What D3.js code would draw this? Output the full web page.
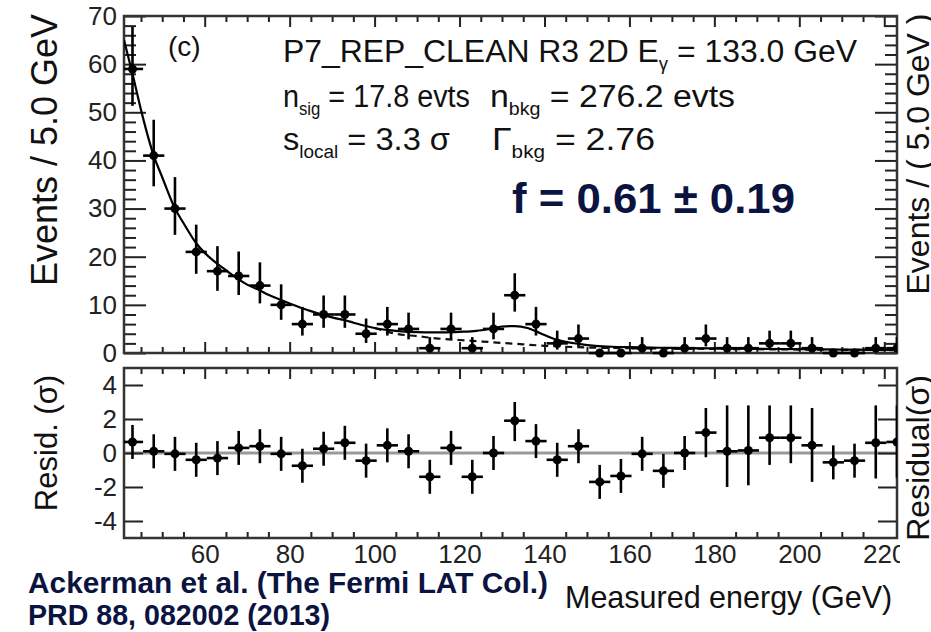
<!doctype html>
<html>
<head>
<meta charset="utf-8">
<style>
  body { margin: 0; background: #fff; }
  svg { display: block; font-family: "Liberation Sans", Arial, Helvetica, sans-serif; }
  .frame { fill: none; stroke: #333; stroke-width: 2.5; }
  .axis path { display: none; }
  .axis line { stroke: #222; stroke-width: 2; }
  .axis text { font-size: 26px; fill: #222; font-family: "Liberation Sans", Arial, sans-serif; }
  .pt line { stroke: #000; stroke-width: 2.6; }
  .pt circle { fill: #000; }
</style>
<script src="https://d3js.org/d3.v7.min.js"></script>
</head>
<body>
<svg width="931" height="632"></svg>
<script>
// bin centres in GeV (5 GeV bins)
var energy = [43, 48, 53, 58, 63, 68, 73, 78, 83, 88, 93, 98, 103, 108, 113, 118, 123, 128, 133,
              138, 143, 148, 153, 158, 163, 168, 173, 178, 183, 188, 193, 198, 203, 208, 213, 218, 223];
// events per bin with asymmetric poisson errors
var counts  = [59, 41, 30, 21, 17, 16, 14, 10, 6, 8, 8, 4, 6, 5, 1, 5, 1, 5, 12,
               6, 2, 3, 0, 0, 1, 0, 1, 3, 1, 1, 2, 2, 1, 0, 0, 1, 1];
var errLow  = [7.66, 6.38, 5.45, 4.55, 4.08, 3.96, 3.70, 3.11, 2.38, 2.77, 2.77, 1.91, 2.38, 2.16, 0.83, 2.16, 0.83, 2.16, 3.41,
               2.38, 1.29, 1.63, 0, 0, 0.83, 0, 0.83, 1.63, 0.83, 0.83, 1.29, 1.29, 0.83, 0, 0, 0.83, 0.83];
var errHigh = [8.73, 7.45, 6.54, 5.66, 5.20, 5.08, 4.83, 4.27, 3.58, 3.95, 3.95, 3.16, 3.58, 3.38, 2.30, 3.38, 2.30, 3.38, 4.56,
               3.58, 2.64, 2.92, 0, 0, 2.30, 0, 2.30, 2.92, 2.30, 2.30, 2.64, 2.64, 2.30, 0, 0, 2.30, 2.30];

// residuals in sigma
var resid     = [0.65, 0.1, -0.05, -0.4, -0.3, 0.3, 0.4, -0.05, -0.75, 0.25, 0.6, -0.45, 0.45, 0.1, -1.4, 0.3, -1.4, 0.0, 1.9,
                 0.7, -0.4, 0.4, -1.7, -1.35, -0.05, -1.05, 0.0, 1.2, 0.1, 0.15, 0.9, 0.9, 0.45, -0.55, -0.45, 0.6, 0.65];
var residLow  = [1, 1, 1, 1, 1, 1, 1, 1, 1, 1, 1, 1, 1, 1, 1, 1, 1, 1, 1.2,
                 1, 1, 1, 1, 1, 1, 1, 1, 1.45, 2.1, 2.05, 1.6, 1.5, 2.15, 1, 1, 2.1, 2.1];
var residHigh = [1, 1, 1, 1, 1, 1, 1, 1, 1, 1, 1, 1, 1, 1, 1, 1, 1, 1, 1.1,
                 1, 1, 1, 1, 1, 1, 1, 1, 1.45, 2.7, 2.65, 1.9, 1.9, 2.2, 1, 1, 2.2, 2.15];

// fitted model: signal + background (solid) and background only (dashed)
var fitE     = [41, 43, 45, 48, 50, 53, 55, 58, 60, 63, 65, 68, 70, 73, 75, 78, 80, 83, 85, 88, 90, 93, 95, 98, 100,
                103, 105, 108, 112, 116, 120, 124, 127, 130, 133, 136, 139, 142, 145, 148, 152, 156, 160, 170, 180, 190, 200, 210, 223];
var fitTotal = [65, 58, 50.5, 41, 36.5, 30, 27, 22.8, 20.8, 18.5, 17.2, 15.3, 14.2, 13, 12.1, 11, 10.3, 9.3, 8.7, 7.9, 7.4, 6.8, 6.3, 5.6, 5.2,
                4.8, 4.6, 4.4, 4.3, 4.3, 4.4, 4.6, 5.0, 5.5, 5.6, 5.2, 4.1, 3.0, 2.3, 1.9, 1.5, 1.3, 1.2, 1.05, 0.95, 0.87, 0.8, 0.72, 0.65];
var bkgE     = [100, 105, 110, 115, 120, 125, 130, 135, 140, 145, 150, 160, 170, 180, 190, 200, 210, 223];
var bkgOnly  = [5.2, 4.0, 3.5, 3.0, 2.7, 2.4, 2.1, 1.8, 1.5, 1.3, 1.15, 1.0, 0.92, 0.85, 0.78, 0.72, 0.66, 0.6];

var yTicksTop = [0, 10, 20, 30, 40, 50, 60, 70];
var yTicksRes = [-4, -2, 0, 2, 4];
var xTicks = [60, 80, 100, 120, 140, 160, 180, 200, 220];

var svg = d3.select("svg");
var left = 124, right = 897;
var x = d3.scaleLinear().domain([41, 223]).range([left, right]);
var yTop = d3.scaleLinear().domain([0, 70]).range([353, 16]);
var yRes = d3.scaleLinear().domain([-5, 5]).range([538, 368]);

var defs = svg.append("defs");
defs.append("clipPath").attr("id", "plotclip")
    .append("rect").attr("x", left).attr("y", 0).attr("width", right - left).attr("height", 632);
defs.append("clipPath").attr("id", "labelclip")
    .append("rect").attr("x", 0).attr("y", 0).attr("width", 900).attr("height", 632);

var minorTop = d3.range(0, 71, 2).filter(function(d) { return d % 10 != 0; });
var minorX = d3.range(45, 224, 5).filter(function(d) { return d % 20 != 0; });

// ---------- upper panel ----------
var upper = svg.append("g");

upper.append("g").attr("class", "axis").attr("transform", "translate(" + left + ",0)")
   .call(d3.axisLeft(yTop).tickValues(yTicksTop).tickSizeInner(-22).tickSizeOuter(0).tickPadding(7));
upper.append("g").attr("class", "axis").attr("transform", "translate(" + left + ",0)")
   .call(d3.axisLeft(yTop).tickValues(minorTop).tickSize(-12).tickFormat(""));
upper.append("g").attr("class", "axis").attr("transform", "translate(" + right + ",0)")
   .call(d3.axisRight(yTop).tickValues(yTicksTop).tickSize(-22).tickFormat(""));
upper.append("g").attr("class", "axis").attr("transform", "translate(" + right + ",0)")
   .call(d3.axisRight(yTop).tickValues(minorTop).tickSize(-12).tickFormat(""));
upper.append("g").attr("class", "axis").attr("transform", "translate(0," + yTop(70) + ")")
   .call(d3.axisTop(x).tickValues(xTicks).tickSize(-11).tickFormat(""));
upper.append("g").attr("class", "axis").attr("transform", "translate(0," + yTop(70) + ")")
   .call(d3.axisTop(x).tickValues(minorX).tickSize(-6).tickFormat(""));
upper.append("g").attr("class", "axis").attr("transform", "translate(0," + yTop(0) + ")")
   .call(d3.axisBottom(x).tickValues(xTicks).tickSize(-11).tickFormat(""));
upper.append("g").attr("class", "axis").attr("transform", "translate(0," + yTop(0) + ")")
   .call(d3.axisBottom(x).tickValues(minorX).tickSize(-6).tickFormat(""));

upper.append("rect").attr("class", "frame")
   .attr("x", left).attr("y", yTop(70)).attr("width", right - left).attr("height", yTop(0) - yTop(70));

var plotTop = upper.append("g").attr("clip-path", "url(#plotclip)");

plotTop.append("path")
   .datum(bkgE.map(function(e, i) { return [e, bkgOnly[i]]; }))
   .attr("fill", "none").attr("stroke", "#111").attr("stroke-width", 2.2).attr("stroke-dasharray", "7,5")
   .attr("d", d3.line().x(function(d) { return x(d[0]); }).y(function(d) { return yTop(d[1]); }).curve(d3.curveMonotoneX));

plotTop.append("path")
   .datum(fitE.map(function(e, i) { return [e, fitTotal[i]]; }))
   .attr("fill", "none").attr("stroke", "#000").attr("stroke-width", 2.2)
   .attr("d", d3.line().x(function(d) { return x(d[0]); }).y(function(d) { return yTop(d[1]); }).curve(d3.curveMonotoneX));

function drawPoints(g, ys, vals, lo, hi) {
  var pts = g.selectAll("g.pt")
    .data(energy.map(function(e, i) { return { e: e, v: vals[i], lo: lo[i], hi: hi[i] }; }))
    .enter().append("g").attr("class", "pt");
  pts.append("line")
     .attr("x1", function(d) { return x(d.e); }).attr("x2", function(d) { return x(d.e); })
     .attr("y1", function(d) { return ys(d.v - d.lo); }).attr("y2", function(d) { return ys(d.v + d.hi); });
  pts.append("line")
     .attr("x1", function(d) { return x(d.e - 2.5); }).attr("x2", function(d) { return x(d.e + 2.5); })
     .attr("y1", function(d) { return ys(d.v); }).attr("y2", function(d) { return ys(d.v); });
  pts.append("circle")
     .attr("cx", function(d) { return x(d.e); }).attr("cy", function(d) { return ys(d.v); }).attr("r", 4.5);
}

drawPoints(plotTop, yTop, counts, errLow, errHigh);

// fit summary text, each line squeezed to its own width
var info = upper.append("g").attr("fill", "#111").attr("font-size", 31);
info.append("text").attr("x", 168).attr("y", 56).attr("font-size", 28).text("(c)");

function subText(xp, yp, width, main, sub, rest) {
  var t = info.append("text").attr("x", xp).attr("y", yp)
    .attr("textLength", width).attr("lengthAdjust", "spacingAndGlyphs");
  t.append("tspan").text(main);
  t.append("tspan").attr("font-size", 18).attr("dy", 8).text(sub);
  t.append("tspan").attr("dy", -8).text(rest);
}
subText(283, 62, 574, "P7_REP_CLEAN R3 2D E", "\u03b3", " = 133.0 GeV");
subText(283, 107, 187, "n", "sig", " = 17.8 evts");
subText(490, 107, 245, "n", "bkg", " = 276.2 evts");
subText(283, 150, 167, "s", "local", " = 3.3 \u03c3");
subText(492, 150, 163, "\u0393", "bkg", " = 2.76");

upper.append("text").attr("x", 512).attr("y", 213).attr("font-size", 42).attr("font-weight", "bold")
   .attr("textLength", 283).attr("lengthAdjust", "spacingAndGlyphs")
   .attr("fill", "#0b1440").text("f = 0.61 \u00b1 0.19");

// ---------- residual panel ----------
var lower = svg.append("g");

lower.append("line").attr("x1", left).attr("x2", right).attr("y1", yRes(0)).attr("y2", yRes(0))
   .attr("stroke", "#999").attr("stroke-width", 3);

lower.append("g").attr("class", "axis").attr("transform", "translate(" + left + ",0)")
   .call(d3.axisLeft(yRes).tickValues(yTicksRes).tickSizeInner(-19).tickSizeOuter(0).tickPadding(7)
         .tickFormat(function(d) { return String(d); }));
lower.append("g").attr("class", "axis").attr("transform", "translate(" + right + ",0)")
   .call(d3.axisRight(yRes).tickValues(yTicksRes).tickSize(-19).tickFormat(""));
lower.append("g").attr("class", "axis").attr("transform", "translate(0," + yRes(5) + ")")
   .call(d3.axisTop(x).tickValues(xTicks).tickSize(-11).tickFormat(""));
lower.append("g").attr("class", "axis").attr("transform", "translate(0," + yRes(5) + ")")
   .call(d3.axisTop(x).tickValues(minorX).tickSize(-6).tickFormat(""));
lower.append("g").attr("class", "axis").attr("transform", "translate(0," + yRes(-5) + ")")
   .attr("clip-path", "url(#labelclip)")
   .call(d3.axisBottom(x).tickValues(xTicks).tickSizeInner(-11).tickSizeOuter(0).tickPadding(7));
lower.append("g").attr("class", "axis").attr("transform", "translate(0," + yRes(-5) + ")")
   .call(d3.axisBottom(x).tickValues(minorX).tickSize(-6).tickFormat(""));

lower.append("rect").attr("class", "frame")
   .attr("x", left).attr("y", yRes(5)).attr("width", right - left).attr("height", yRes(-5) - yRes(5));

var plotBot = lower.append("g").attr("clip-path", "url(#plotclip)");
drawPoints(plotBot, yRes, resid, residLow, residHigh);

// ---------- axis titles ----------
svg.append("text").attr("transform", "translate(57,150) rotate(-90)")
   .attr("text-anchor", "middle").attr("font-size", 36).attr("fill", "#111").text("Events / 5.0 GeV");
svg.append("text").attr("transform", "translate(57,443) rotate(-90)")
   .attr("text-anchor", "middle").attr("font-size", 31).attr("fill", "#111").text("Resid. (\u03c3)");
svg.append("text").attr("transform", "translate(929,154) rotate(-90)")
   .attr("text-anchor", "middle").attr("font-size", 32).attr("fill", "#111").text("Events / ( 5.0 GeV )");
svg.append("text").attr("transform", "translate(929,458) rotate(-90)")
   .attr("text-anchor", "middle").attr("font-size", 32).attr("fill", "#111").text("Residual(\u03c3)");
svg.append("text").attr("x", 565).attr("y", 608).attr("font-size", 30.5).attr("fill", "#111")
   .text("Measured energy (GeV)");

svg.append("text").attr("x", 28).attr("y", 593).attr("font-size", 29).attr("font-weight", "bold")
   .attr("textLength", 520).attr("lengthAdjust", "spacingAndGlyphs")
   .attr("fill", "#0b1440").text("Ackerman et al. (The Fermi LAT Col.)");
svg.append("text").attr("x", 28).attr("y", 625).attr("font-size", 29).attr("font-weight", "bold")
   .attr("textLength", 302).attr("lengthAdjust", "spacingAndGlyphs")
   .attr("fill", "#0b1440").text("PRD 88, 082002 (2013)");
</script>
</body>
</html>
